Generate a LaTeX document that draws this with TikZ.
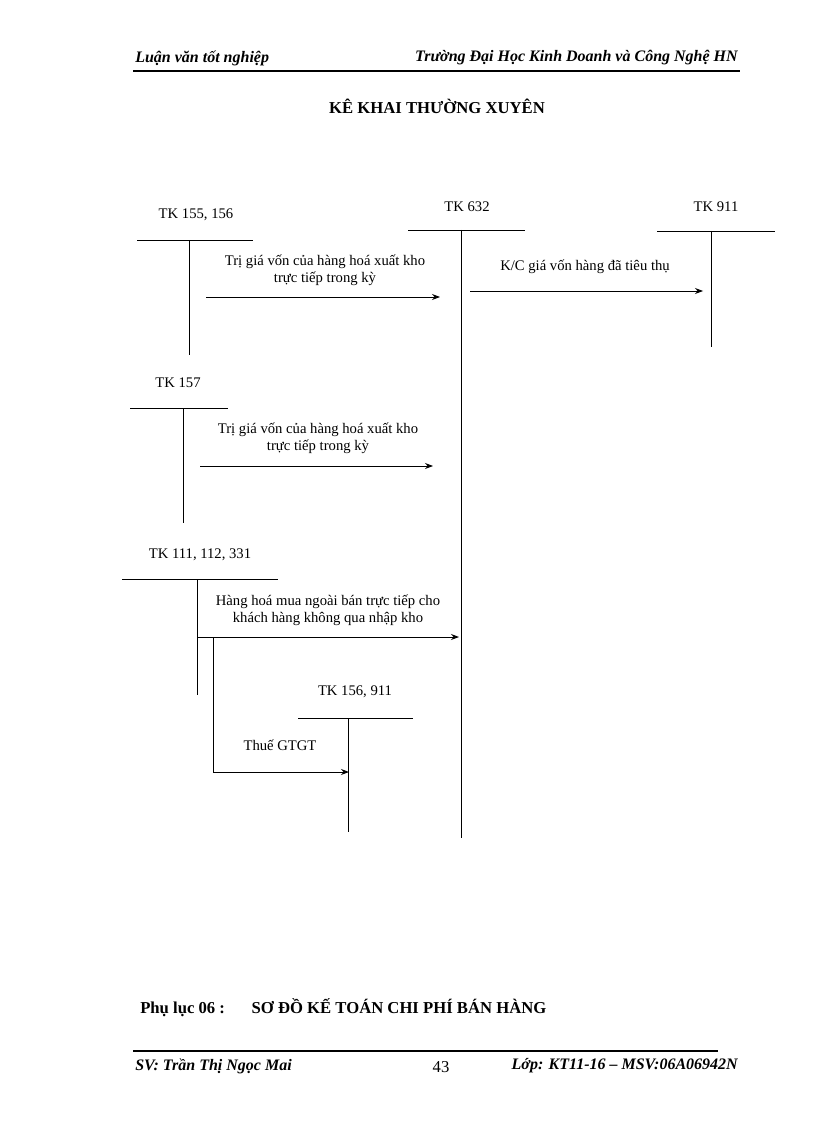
\documentclass[tikz,border=0pt]{standalone}
\usepackage{fontspec}
\setmainfont{Liberation Serif}
\usetikzlibrary{arrows.meta}
\begin{document}
\begin{tikzpicture}[x=0.75pt,y=-0.75pt,
  lbl/.style={font=\fontsize{11}{13}\selectfont, inner sep=0pt},
  acc/.style={line width=0.7pt},
  flow/.style={line width=0.7pt,-{Stealth[length=6pt,width=4.5pt]}},
  hdr/.style={font=\fontsize{12}{14}\selectfont\bfseries\itshape, inner sep=0pt}]
\useasboundingbox (0,0) rectangle (816,1123);
% header
\node[hdr,anchor=west] (h1) at (135,58) {Luận văn tốt nghiệp};
\node[hdr,anchor=east] (h2) at (738,58) {Trường Đại Học Kinh Doanh và Công Nghệ HN};
\draw[line width=1.2pt] (133,71) -- (740,71);
\node[font=\fontsize{12.5}{14}\selectfont\bfseries, inner sep=0pt] (title) at (437,106) {KÊ KHAI THƯỜNG XUYÊN};
% TK 155,156
\node[lbl] (l1) at (196,215) {TK 155, 156};
\draw[acc] (137,240) -- (253,240);
\draw[acc] (189,240) -- (189,355);
% TK 632
\node[lbl] (l2) at (467,207) {TK 632};
\draw[acc] (408,230) -- (525,230);
\draw[acc] (461,230) -- (461,838);
% TK 911
\node[lbl] (l3) at (716,207) {TK 911};
\draw[acc] (657,231) -- (775,231);
\draw[acc] (711,231) -- (711,347);
% arrows
\coordinate (a1s) at (206,297); \coordinate (a1e) at (440,297);
\draw[flow] (a1s) -- (a1e);
\node[lbl,align=center] (t1) at (325,270) {Trị giá vốn của hàng hoá xuất kho\\trực tiếp trong kỳ};
\coordinate (a2s) at (470,291); \coordinate (a2e) at (703,291);
\draw[flow] (a2s) -- (a2e);
\node[lbl] (t2) at (585,267) {K/C giá vốn hàng đã tiêu thụ};
% TK 157
\node[lbl] (l4) at (178,383) {TK 157};
\draw[acc] (130,408) -- (228,408);
\draw[acc] (183,408) -- (183,523);
\coordinate (a3s) at (200,466); \coordinate (a3e) at (433,466);
\draw[flow] (a3s) -- (a3e);
\node[lbl,align=center] (t3) at (318,438) {Trị giá vốn của hàng hoá xuất kho\\trực tiếp trong kỳ};
% TK 111
\node[lbl] (l5) at (200,555) {TK 111, 112, 331};
\draw[acc] (122,579) -- (278,579);
\draw[acc] (197,579) -- (197,695);
\node[lbl,align=center] (t4) at (328,610) {Hàng hoá mua ngoài bán trực tiếp cho\\khách hàng không qua nhập kho};
\coordinate (a4s) at (197,637); \coordinate (a4e) at (459,637);
\draw[flow] (a4s) -- (a4e);
\coordinate (b1) at (213,637); \coordinate (b2) at (213,772); \coordinate (b3) at (349,772);
\draw[acc] (b1) -- (b2);
\draw[flow] (b2) -- (b3);
\node[lbl] (t5) at (280,745) {Thuế GTGT};
% TK 156,911
\node[lbl] (l6) at (355,692) {TK 156, 911};
\draw[acc] (298,718) -- (413,718);
\draw[acc] (348,718) -- (348,832);
% footer
\node[font=\fontsize{12.5}{14}\selectfont\bfseries, inner sep=0pt, anchor=west] (p) at (140,1008) {Phụ lục 06 :\hspace{1.6em}SƠ ĐỒ KẾ TOÁN CHI PHÍ BÁN HÀNG};
\draw[line width=1.2pt] (133,1051) -- (718,1051);
\node[hdr,anchor=west] (f1) at (135,1066) {SV: Trần Thị Ngọc Mai};
\node[font=\fontsize{12.5}{14}\selectfont, inner sep=0pt] (f2) at (441,1067) {43};
\node[hdr,anchor=east] (f3) at (738,1066) {Lớp: KT11-16 – MSV:06A06942N};
\end{tikzpicture}
\end{document}
